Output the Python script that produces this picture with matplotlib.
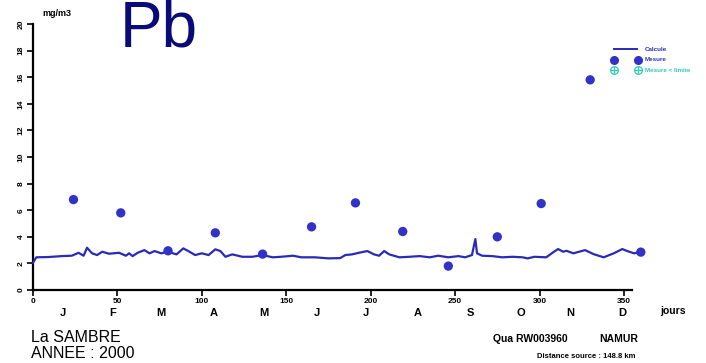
import matplotlib.pyplot as plt
from matplotlib.lines import Line2D

plt.rcParams["font.family"] = ["Liberation Sans", "DejaVu Sans"]

COLOR_LINE = "#2a2ab8"
COLOR_MARK = "#3232c8"
COLOR_TEAL = "#2ccfb0"
COLOR_NAVY = "#0a0a78"

# Courbe calculee (jours, mg/m3)
jours_calc = [0, 2, 9, 17, 23, 27, 30, 32, 35, 38, 41, 45, 51, 55, 57, 59, 62,
              66, 69, 72, 76, 80, 85, 89, 92, 96, 100, 104, 108, 111, 114, 118,
              124, 130, 136, 142, 147, 154, 159, 167, 175, 182, 185, 189, 193,
              198, 202, 205, 208, 211, 217, 223, 229, 235, 240, 246, 252, 256,
              260, 262, 263, 266, 272, 278, 284, 290, 293, 297, 304, 308, 311,
              314, 316, 320, 327, 332, 338, 344, 349, 352, 356, 359]
val_calc = [2.05, 2.46, 2.48, 2.55, 2.58, 2.80, 2.58, 3.18, 2.76, 2.63, 2.88,
            2.73, 2.80, 2.58, 2.76, 2.55, 2.80, 3.00, 2.76, 2.93, 2.76, 2.88,
            2.68, 3.13, 2.93, 2.63, 2.76, 2.63, 3.06, 2.93, 2.50, 2.68, 2.50,
            2.50, 2.63, 2.46, 2.50, 2.58, 2.46, 2.46, 2.38, 2.40, 2.63, 2.68,
            2.80, 2.93, 2.68, 2.58, 2.93, 2.68, 2.46, 2.50, 2.55, 2.46, 2.58,
            2.46, 2.55, 2.46, 2.63, 3.83, 2.76, 2.58, 2.55, 2.46, 2.50, 2.46,
            2.38, 2.50, 2.46, 2.83, 3.08, 2.88, 2.95, 2.76, 3.00, 2.70, 2.46,
            2.76, 3.08, 2.93, 2.76, 2.83]

# Mesures
jours_mes = [24, 52, 80, 108, 136, 165, 191, 219, 246, 275, 301, 330, 360]
val_mes = [6.8, 5.8, 2.95, 4.3, 2.7, 4.75, 6.55, 4.4, 1.8, 4.0, 6.5, 15.8, 2.85]

mois = ["J", "F", "M", "A", "M", "J", "J", "A", "S", "O", "N", "D"]
pos_mois = [18, 47, 76, 107, 137, 168, 197, 228, 259, 289, 318, 349]

fig = plt.figure(figsize=(7.06, 3.63), dpi=100)
ax = fig.add_axes([0.0467, 0.201, 0.849, 0.733])

ax.plot(jours_calc, val_calc, color=COLOR_LINE, lw=1.6, clip_on=False, zorder=3)
ax.scatter(jours_mes, val_mes, s=45, color=COLOR_MARK, edgecolors="none",
           clip_on=False, zorder=4)

ax.set_xlim(0, 355)
ax.set_ylim(0, 20)
ax.set_xticks(range(0, 351, 50))
ax.set_yticks(range(0, 21, 2))
for s in ["top", "right"]:
    ax.spines[s].set_visible(False)
for s in ["left", "bottom"]:
    ax.spines[s].set_linewidth(1.6)
ax.tick_params(direction="out", length=4, width=1.2, labelsize=6, pad=2)
for lab in ax.get_xticklabels():
    lab.set_fontweight("bold")
for lab in ax.get_yticklabels():
    lab.set_fontweight("bold")
    lab.set_rotation(90)
    lab.set_va("center")

for m, p in zip(mois, pos_mois):
    ax.text(p, -0.085, m, transform=ax.get_xaxis_transform(), ha="center",
            va="center", fontsize=8, fontweight="bold")
fig.text(0.935, 0.142, "jours", fontsize=7.5, fontweight="bold", va="center")

fig.text(0.0595, 0.963, "mg/m3", fontsize=6.5, fontweight="bold", va="center")
fig.text(0.225, 0.918, "Pb", fontsize=46, color=COLOR_NAVY, ha="center",
         va="center")

# Legende
fig.add_artist(Line2D([0.869, 0.902], [0.865, 0.865], color=COLOR_LINE,
                      lw=1.4, transform=fig.transFigure))
fig.text(0.913, 0.865, "Calcule", fontsize=4.5, fontweight="bold",
         color=COLOR_LINE, va="center")
for xm in [0.869, 0.904]:
    fig.add_artist(Line2D([xm], [0.835], marker="o", ms=5.5, color=COLOR_MARK,
                          lw=0, transform=fig.transFigure))
    fig.add_artist(Line2D([xm], [0.807], marker="o", ms=5.5, mfc="none",
                          mec=COLOR_TEAL, mew=0.9, lw=0,
                          transform=fig.transFigure))
    fig.add_artist(Line2D([xm], [0.807], marker="+", ms=5.5,
                          mec=COLOR_TEAL, mew=0.9, lw=0,
                          transform=fig.transFigure))
fig.text(0.913, 0.835, "Mesure", fontsize=4.5, fontweight="bold",
         color=COLOR_MARK, va="center")
fig.text(0.913, 0.807, "Mesure < limite", fontsize=4.5, fontweight="bold",
         color=COLOR_TEAL, va="center")

# Textes du bas
fig.text(0.044, 0.069, "La SAMBRE", fontsize=11.5, va="center")
fig.text(0.044, 0.025, "ANNEE : 2000", fontsize=11.5, va="center")
fig.text(0.698, 0.066, "Qua RW003960", fontsize=7.5, fontweight="bold",
         va="center")
fig.text(0.849, 0.066, "NAMUR", fontsize=7.5, fontweight="bold", va="center")
fig.text(0.9, 0.019, "Distance source : 148.8 km", fontsize=5.5,
         fontweight="bold", va="center", ha="right")

fig.savefig("out.png", dpi=100, facecolor="white")
